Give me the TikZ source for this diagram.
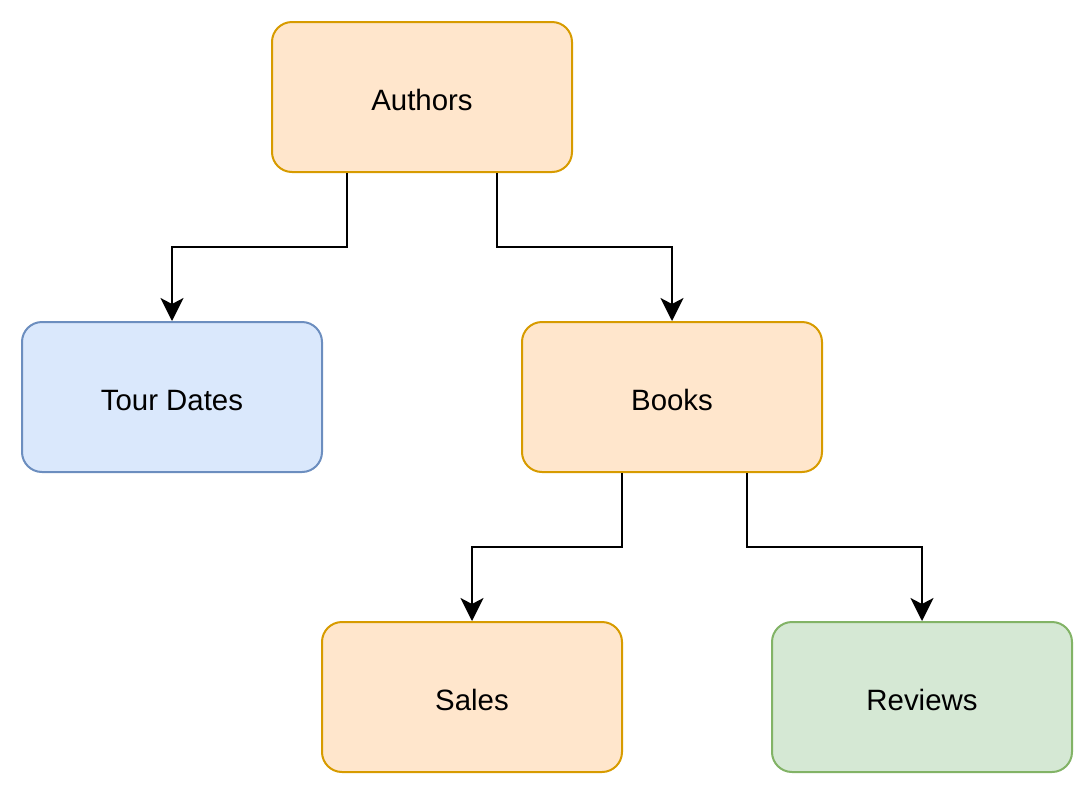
\documentclass[tikz,border=0pt]{standalone}
\usepackage{fontspec}
\setmainfont{Liberation Sans}
\usetikzlibrary{arrows.meta}
\definecolor{orfill}{HTML}{FFE6CC}
\definecolor{ordraw}{HTML}{D79B00}
\definecolor{blfill}{HTML}{DAE8FC}
\definecolor{bldraw}{HTML}{6C8EBF}
\definecolor{grfill}{HTML}{D5E8D4}
\definecolor{grdraw}{HTML}{82B366}
\tikzset{
  box/.style={rounded corners=10pt, minimum width=150pt, minimum height=75pt, line width=1pt, inner sep=0pt, font=\fontsize{14.7pt}{17pt}\selectfont, anchor=center, text height=13.5pt, text depth=0pt},
  orbox/.style={box, fill=orfill, draw=ordraw},
  blbox/.style={box, fill=blfill, draw=bldraw},
  grbox/.style={box, fill=grfill, draw=grdraw},
  conn/.style={line width=1pt, -{Stealth[length=11.5pt, width=11.5pt, inset=3pt]}}
}
\begin{document}
\begin{tikzpicture}[x=0.5pt, y=-0.5pt]
\useasboundingbox (0,0) rectangle (1084,804);
\node[orbox] (authors) at (422,97) {Authors};
\node[blbox] (tour) at (172,397) {Tour Dates};
\node[orbox] (books) at (672,397) {Books};
\node[orbox] (sales) at (472,697) {Sales};
\node[grbox] (reviews) at (922,697) {Reviews};
\draw[conn] ([xshift=-37.5pt]authors.south) |- (172,247) -- (tour.north);
\draw[conn] ([xshift=37.5pt]authors.south) |- (672,247) -- (books.north);
\draw[conn] ([xshift=-25pt]books.south) |- (472,547) -- (sales.north);
\draw[conn] ([xshift=37.5pt]books.south) |- (922,547) -- (reviews.north);
\end{tikzpicture}
\end{document}
